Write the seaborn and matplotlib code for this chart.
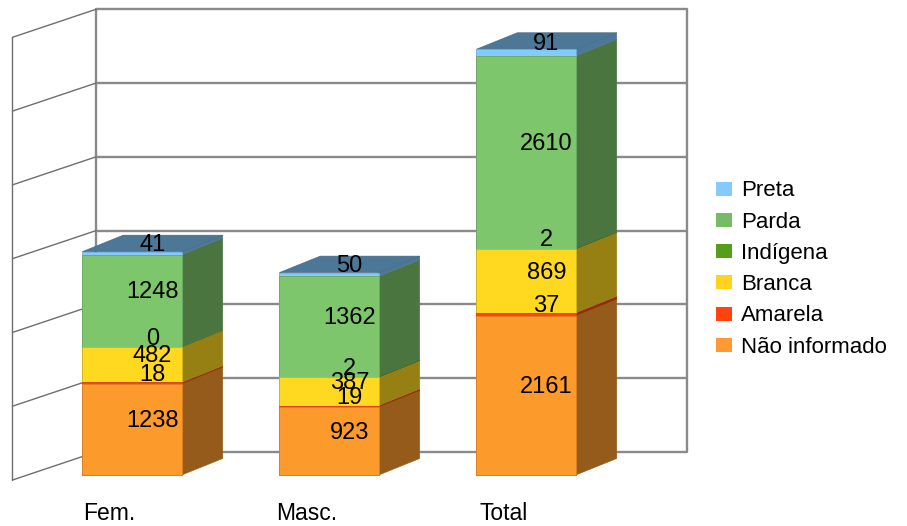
import matplotlib
matplotlib.use("Agg")
import matplotlib.pyplot as plt
from matplotlib.patches import Polygon, Patch
from matplotlib.colors import to_rgb
import numpy as np
import pandas as pd
import seaborn as sns

# ---- data -------------------------------------------------------------
groups = ["Fem.", "Masc.", "Total"]
races = ["Não informado", "Amarela", "Branca", "Indígena", "Parda", "Preta"]
nao_informado = [1238, 923, 2161]
amarela = [18, 19, 37]
branca = [482, 387, 869]
indigena = [0, 2, 2]
parda = [1248, 1362, 2610]
preta = [41, 50, 91]

series = {
    "Não informado": nao_informado,
    "Amarela": amarela,
    "Branca": branca,
    "Indígena": indigena,
    "Parda": parda,
    "Preta": preta,
}
colors = {
    "Não informado": "#fd9a2c",
    "Amarela": "#ff420e",
    "Branca": "#ffd820",
    "Indígena": "#579d1c",
    "Parda": "#7dc66b",
    "Preta": "#83caff",
}
legend_colors = {
    "Não informado": "#ff9933",
    "Amarela": "#ff420e",
    "Branca": "#ffd320",
    "Indígena": "#579d1c",
    "Parda": "#77bc65",
    "Preta": "#83caff",
}

# ---- table of stacked values -------------------------------------------
df = pd.DataFrame(series)
df.insert(0, "grupo", groups)
cum = df[races].cumsum(axis=1)
cum.insert(0, "grupo", groups)

# ---- styling / pseudo-3D geometry ---------------------------------------
sns.set_theme(style="white")
plt.rcParams["font.family"] = ["Liberation Sans", "DejaVu Sans"]
plt.rcParams["text.color"] = "black"

BAR_W = 0.505          # width of the front face (category units)
DX, DY = 0.208, 224    # depth offset of the bars (x units, value units)
SHADE = 0.59           # darkening of side and top faces
WALL_X0, WALL_X1 = -0.183, 2.815   # back wall horizontal extent
WALL_V0 = 312                       # back wall baseline (value units)
LEFT_X = -0.607                     # front edge of the left wall
LEFT_V0 = -68                       # front baseline of the left wall
GRID_STEP, N_STEPS = 1000, 6
GRID_C = "#8a8a8a"


def shade(c, f=SHADE):
    r, g, b = to_rgb(c)
    return (r * f, g * f, b * f)


fig = plt.figure(figsize=(9.07, 5.26), dpi=100)
ax = fig.add_axes([0, 0, 1, 1])

# back wall with horizontal grid lines
for k in range(N_STEPS + 1):
    v = WALL_V0 + k * GRID_STEP
    ax.plot([WALL_X0, WALL_X1], [v, v], color=GRID_C, lw=1.7, zorder=1,
            solid_capstyle="butt")
top_v = WALL_V0 + N_STEPS * GRID_STEP
for xw in (WALL_X0, WALL_X1):
    ax.plot([xw, xw], [WALL_V0, top_v], color=GRID_C, lw=1.7, zorder=1)

# left side wall
for k in range(N_STEPS + 1):
    ax.plot([LEFT_X, WALL_X0],
            [LEFT_V0 + k * GRID_STEP, WALL_V0 + k * GRID_STEP],
            color="#6e6e6e", lw=1.0, zorder=1)
ax.plot([LEFT_X, LEFT_X], [LEFT_V0, LEFT_V0 + N_STEPS * GRID_STEP],
        color="#6e6e6e", lw=1.0, zorder=1)

# front faces: cumulative layers drawn from the tallest down
for race in reversed(races):
    sns.barplot(data=cum, x="grupo", y=race, color=colors[race],
                saturation=1, width=BAR_W, errorbar=None, ax=ax, zorder=3,
                edgecolor=shade(colors[race], 0.85), linewidth=0.6)

# side and top faces, plus value labels
hw = BAR_W / 2
for i, g in enumerate(groups):
    lo = 0
    for race in races:
        val = series[race][i]
        hi = lo + val
        side = Polygon([(i + hw, lo), (i + hw + DX, lo + DY),
                        (i + hw + DX, hi + DY), (i + hw, hi)],
                       closed=True, facecolor=shade(colors[race]),
                       edgecolor=shade(colors[race]), lw=0.4, zorder=2)
        ax.add_patch(side)
        ax.text(i + DX / 2, (lo + hi) / 2 + DY / 2, f"{val}",
                ha="center", va="center", fontsize=17, color="black",
                zorder=6)
        lo = hi
    top = Polygon([(i - hw, lo), (i + hw, lo), (i + hw + DX, lo + DY),
                   (i - hw + DX, lo + DY)], closed=True,
                  facecolor=shade(colors["Preta"]),
                  edgecolor=shade(colors["Preta"], 0.5), lw=0.4, zorder=2)
    ax.add_patch(top)
    ax.text(i - 0.115, -515, g, ha="center", va="center", fontsize=16.5,
            color="black")

ax.set_xlim(-132 / 197, (907 - 132) / 197)
ax.set_ylim(-691, 6438)
ax.axis("off")

handles = [Patch(facecolor=legend_colors[r], edgecolor="none", label=r)
           for r in reversed(races)]
fig.legend(handles=handles, loc="upper left",
           bbox_to_anchor=(716 / 907, 1 - 180.5 / 526), frameon=False,
           fontsize=16, handlelength=0.72, handleheight=0.6,
           handletextpad=0.42, labelspacing=0.46, borderpad=0,
           borderaxespad=0, labelcolor="black")

fig.savefig("out.png", dpi=100)
